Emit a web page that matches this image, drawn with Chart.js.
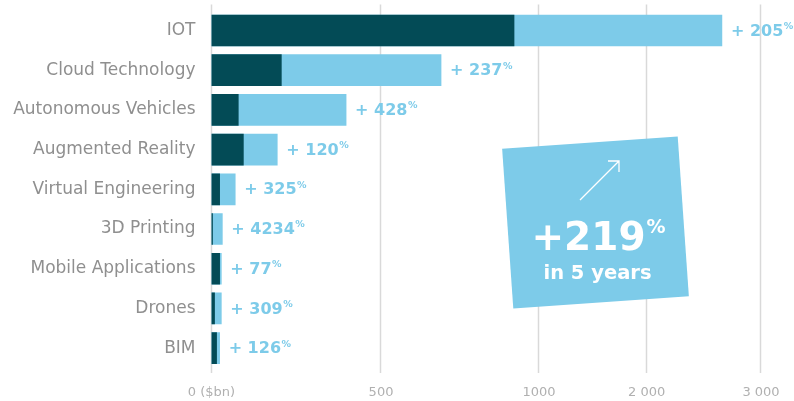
<!DOCTYPE html>
<html>
<head>
<meta charset="utf-8">
<script src="https://cdn.jsdelivr.net/npm/chart.js@4.4.1/dist/chart.umd.min.js"></script>
<style>
  html, body { margin: 0; padding: 0; background: #fff; }
  #wrap { width: 794px; height: 401px; position: relative; }
</style>
</head>
<body>
<div id="wrap"><canvas id="myChart"></canvas></div>
<script>
const categories = [
    "IOT", "Cloud Technology", "Autonomous Vehicles", "Augmented Reality",
    "Virtual Engineering", "3D Printing", "Mobile Applications", "Drones", "BIM"
];
// market size ($bn), start and end of the 5 year span
const startValues = [921, 206, 79, 94, 24, 3, 24, 9, 15];
const endValues = [2658, 690, 397, 194, 70, 32, 29, 29, 24];
const growthLabels = ["205", "237", "428", "120", "325", "4234", "77", "309", "126"];

const tickValues = [0, 500, 1000, 2000, 3000];
const tickLabels = ["0 ($bn)", "500", "1000", "2 000", "3 000"];
// where each tick sits along the axis (0..1), the axis is broken after 1000
const tickFractions = [0, 0.3085, 0.596, 0.792, 1];

const dark = '#034b56';
const light = '#7dcbe9';
const font = '"DejaVu Sans"';

class PiecewiseScale extends Chart.LinearScale {
    getPixelForValue(value) {
        if (value === null || value === undefined) return NaN;
        let i = 0;
        while (i < tickValues.length - 2 && value > tickValues[i + 1]) i++;
        const t = (value - tickValues[i]) / (tickValues[i + 1] - tickValues[i]);
        return this.getPixelForDecimal(tickFractions[i] + t * (tickFractions[i + 1] - tickFractions[i]));
    }
    getValueForPixel(pixel) {
        const d = this.getDecimalForPixel(pixel);
        let i = 0;
        while (i < tickFractions.length - 2 && d > tickFractions[i + 1]) i++;
        const t = (d - tickFractions[i]) / (tickFractions[i + 1] - tickFractions[i]);
        return tickValues[i] + t * (tickValues[i + 1] - tickValues[i]);
    }
}
PiecewiseScale.id = 'piecewise';
PiecewiseScale.defaults = Chart.LinearScale.defaults;
Chart.register(PiecewiseScale);

const gridLines = {
    id: 'gridLines',
    beforeDatasetsDraw(chart) {
        const { ctx, chartArea, scales: { x } } = chart;
        ctx.save();
        ctx.strokeStyle = '#d9d9d9';
        ctx.lineWidth = 1.5;
        x.ticks.forEach(t => {
            const px = Math.round(x.getPixelForValue(t.value)) - 0.5;
            ctx.beginPath();
            ctx.moveTo(px, chartArea.top - 6);
            ctx.lineTo(px, chartArea.bottom + 5);
            ctx.stroke();
        });
        ctx.restore();
    }
};

const growthText = {
    id: 'growthText',
    afterDatasetsDraw(chart) {
        const { ctx } = chart;
        const meta = chart.getDatasetMeta(1);
        ctx.save();
        ctx.fillStyle = light;
        ctx.textBaseline = 'middle';
        meta.data.forEach((bar, i) => {
            const x = bar.x + 9;
            const y = bar.y + 1;
            ctx.font = 'bold 16px ' + font;
            const txt = '+ ' + growthLabels[i];
            ctx.fillText(txt, x, y);
            const w = ctx.measureText(txt).width;
            ctx.font = 'bold 9.5px ' + font;
            ctx.fillText('%', x + w + 0.5, y - 5);
        });
        ctx.restore();
    }
};

const summaryBox = {
    id: 'summaryBox',
    afterDraw(chart) {
        const { ctx } = chart;
        ctx.save();
        ctx.translate(595.5, 222.5);
        ctx.rotate(-4 * Math.PI / 180);
        ctx.fillStyle = light;
        ctx.fillRect(-88, -80, 176, 160);
        ctx.restore();

        ctx.save();
        ctx.strokeStyle = '#fff';
        ctx.lineWidth = 1.3;
        ctx.beginPath();
        ctx.moveTo(580, 200);
        ctx.lineTo(619, 161);
        ctx.moveTo(608, 161);
        ctx.lineTo(619, 161);
        ctx.lineTo(619, 172);
        ctx.stroke();

        ctx.fillStyle = '#fff';
        ctx.textBaseline = 'alphabetic';
        ctx.font = 'bold 39px ' + font;
        const big = '+219';
        const bw = ctx.measureText(big).width;
        ctx.font = 'bold 19px ' + font;
        const pw = ctx.measureText('%').width;
        const bx = 598 - (bw + pw) / 2;
        ctx.font = 'bold 39px ' + font;
        ctx.fillText(big, bx, 250);
        ctx.font = 'bold 19px ' + font;
        ctx.fillText('%', bx + bw + 1, 233);
        ctx.font = 'bold 19.5px ' + font;
        ctx.textAlign = 'center';
        ctx.fillText('in 5 years', 597.5, 279);
        ctx.restore();
    }
};

const ctx = document.getElementById('myChart').getContext('2d');
const chart = new Chart(ctx, {
    type: 'bar',
    data: {
        labels: categories,
        datasets: [
            {
                label: 'Start',
                data: startValues,
                backgroundColor: dark,
                order: 0
            },
            {
                label: 'End',
                data: endValues,
                backgroundColor: light,
                order: 1
            }
        ]
    },
    options: {
        indexAxis: 'y',
        responsive: true,
        maintainAspectRatio: false,
        animation: false,
        layout: { padding: { top: 10.6, right: 33, left: 0, bottom: 0 } },
        datasets: {
            bar: { grouped: false, barThickness: 31, borderSkipped: false }
        },
        plugins: {
            legend: { display: false },
            tooltip: { enabled: false }
        },
        scales: {
            x: {
                type: 'piecewise',
                min: 0,
                max: 3000,
                afterBuildTicks: scale => {
                    scale.ticks = tickValues.map(v => ({ value: v }));
                },
                afterFit: scale => {
                    scale.height = 33;
                    scale.paddingLeft = 0;
                    scale.paddingRight = 0;
                },
                grid: { display: false, drawTicks: false },
                border: { display: false },
                ticks: {
                    autoSkip: false,
                    maxRotation: 0,
                    padding: 17,
                    color: '#b0b0b0',
                    font: { family: 'DejaVu Sans', size: 13 },
                    callback: (value, index) => tickLabels[index]
                }
            },
            y: {
                afterFit: scale => {
                    scale.width = 211.5;
                    scale.paddingTop = 0;
                    scale.paddingBottom = 0;
                },
                grid: { display: false, drawTicks: false },
                border: { display: false },
                ticks: {
                    padding: 16,
                    color: '#8f8f8f',
                    font: { family: 'DejaVu Sans', size: 17 }
                }
            }
        }
    },
    plugins: [gridLines, growthText, summaryBox]
});
</script>
</body>
</html>
